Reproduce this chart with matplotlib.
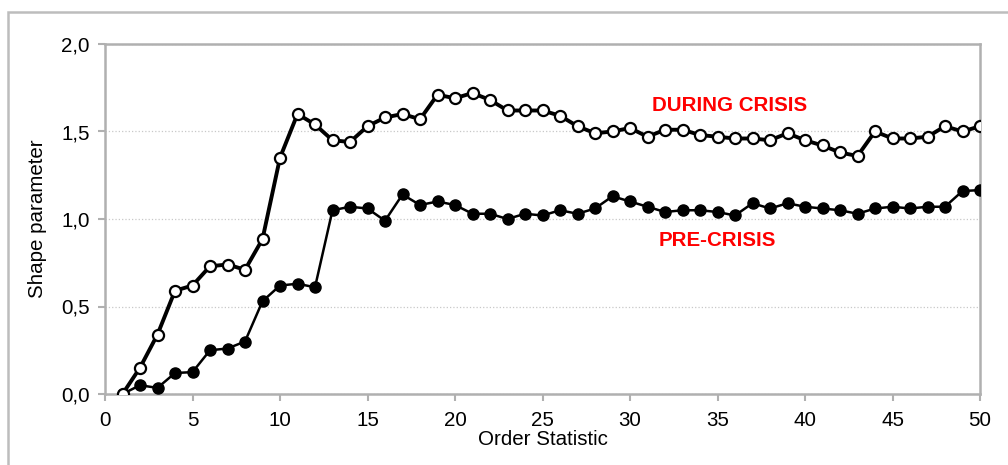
import matplotlib
matplotlib.use("Agg")
import matplotlib.pyplot as plt
from matplotlib.patches import Rectangle
from matplotlib.ticker import FuncFormatter

plt.rcParams['font.family'] = ['Liberation Sans', 'DejaVu Sans']

order = list(range(1, 51))
during = [0.00, 0.15, 0.34, 0.59, 0.62, 0.73, 0.74, 0.71, 0.885, 1.35,
          1.60, 1.54, 1.45, 1.44, 1.53, 1.58, 1.60, 1.57, 1.71, 1.69,
          1.72, 1.68, 1.62, 1.62, 1.62, 1.59, 1.53, 1.49, 1.50, 1.52,
          1.47, 1.51, 1.51, 1.48, 1.47, 1.46, 1.46, 1.45, 1.49, 1.45,
          1.42, 1.38, 1.36, 1.50, 1.46, 1.46, 1.47, 1.53, 1.50, 1.53]
pre = [0.00, 0.05, 0.035, 0.12, 0.125, 0.25, 0.26, 0.30, 0.53, 0.62,
       0.63, 0.61, 1.05, 1.07, 1.06, 0.99, 1.14, 1.08, 1.10, 1.08,
       1.03, 1.03, 1.00, 1.03, 1.02, 1.05, 1.03, 1.06, 1.13, 1.10,
       1.07, 1.04, 1.05, 1.05, 1.04, 1.02, 1.09, 1.06, 1.09, 1.07,
       1.06, 1.05, 1.03, 1.06, 1.07, 1.06, 1.07, 1.07, 1.16, 1.165]
xticks = list(range(0, 51, 5))
yticks = [0.0, 0.5, 1.0, 1.5, 2.0]

W, H = 1008, 465
FS = 14.8
fig = plt.figure(figsize=(W / 100, H / 100), dpi=100)
fig.patches.append(Rectangle((8 / W, -0.05), 1.2, 1 - 12 / H + 0.05,
                             transform=fig.transFigure, fill=False,
                             edgecolor='#bdbdbd', linewidth=1.8))
ax = fig.add_axes([105 / W, 1 - 394 / H, (980 - 105) / W, (394 - 44) / H])

ax.plot(order, pre, color='black', linewidth=1.8, marker='o', markersize=8,
        markerfacecolor='black', markeredgecolor='black', zorder=3)
ax.plot(order, during, color='black', linewidth=2.8, marker='o', markersize=8,
        markerfacecolor='white', markeredgecolor='black', markeredgewidth=1.6,
        zorder=4)

ax.set_xlim(0, 50)
ax.set_ylim(0, 2.0)
ax.set_xticks(xticks)
ax.set_yticks(yticks)
ax.yaxis.set_major_formatter(FuncFormatter(lambda v, p: f"{v:.1f}".replace('.', ',')))
for s in ax.spines.values():
    s.set_color('#b0b0b0')
    s.set_linewidth(1.8)
ax.tick_params(axis='both', colors='#b0b0b0', labelcolor='black',
               labelsize=FS, length=5, width=1.5, direction='out')
ax.tick_params(axis='x', pad=7)
ax.tick_params(axis='y', pad=6)
ax.grid(axis='y', color='#c8c8c8', linestyle=':', linewidth=0.9)
ax.set_axisbelow(True)

ax.set_xlabel('Order Statistic', fontsize=FS, labelpad=0)
ax.set_ylabel('Shape parameter', fontsize=FS, labelpad=10)

ax.text(35.7, 1.65, 'DURING CRISIS', color='#ff0000', fontsize=FS,
        fontweight='bold', ha='center', va='center')
ax.text(35.0, 0.88, 'PRE-CRISIS', color='#ff0000', fontsize=FS,
        fontweight='bold', ha='center', va='center')

fig.savefig('out.png', dpi=100)
